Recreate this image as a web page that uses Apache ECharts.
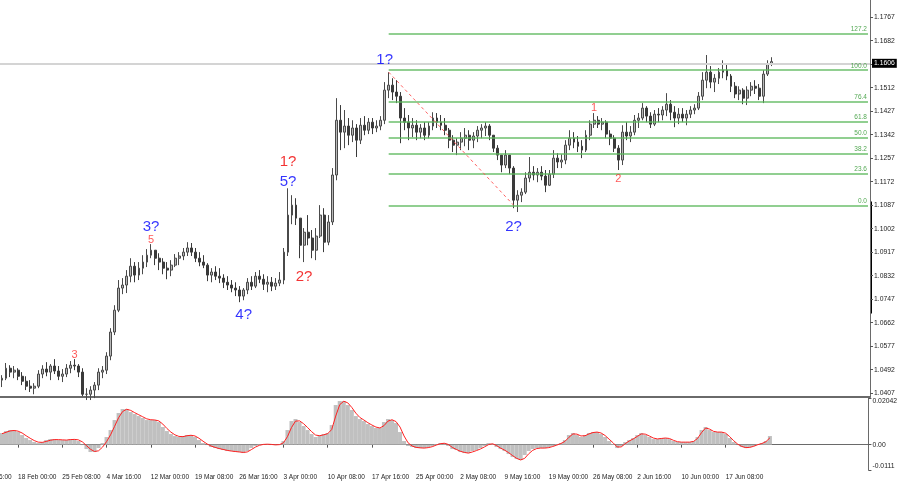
<!DOCTYPE html>
<html><head><meta charset="utf-8">
<script src="https://cdn.jsdelivr.net/npm/echarts@6/dist/echarts.min.js"></script>
<style>html,body{margin:0;padding:0;background:#fff}#c{width:900px;height:485px}</style>
</head><body><div id="c"></div>
<script>
// ---- price bars (H4-style candles, open = previous close) ----
const firstOpen = 1.0454;
const highs = [
1.0472,1.0516,1.0508,1.0505,1.0497,1.0483,1.0468,1.0454,1.0443,1.0490,
1.0508,1.0519,1.0512,1.0530,1.0505,1.0494,1.0512,1.0523,1.0530,1.0512,
1.0497,1.0425,1.0432,1.0447,1.0497,1.0505,1.0555,1.0642,1.0725,1.0816,
1.0823,1.0852,1.0895,1.0881,1.0881,1.0906,1.0928,1.0946,1.0924,1.0913,
1.0895,1.0881,1.0888,1.0910,1.0917,1.0932,1.0953,1.0950,1.0932,1.0917,
1.0906,1.0877,1.0859,1.0866,1.0859,1.0837,1.0830,1.0816,1.0808,1.0794,
1.0787,1.0823,1.0830,1.0845,1.0852,1.0837,1.0830,1.0827,1.0823,1.0845,
1.0932,1.1148,1.1123,1.1112,1.1040,1.1004,1.1051,1.0997,1.1004,1.1087,
1.1076,1.1051,1.1221,1.1474,1.1449,1.1431,1.1402,1.1394,1.1380,1.1402,
1.1409,1.1402,1.1402,1.1394,1.1409,1.1532,1.1568,1.1546,1.1539,1.1496,
1.1438,1.1413,1.1402,1.1394,1.1380,1.1387,1.1387,1.1423,1.1420,1.1413,
1.1402,1.1366,1.1340,1.1329,1.1351,1.1366,1.1358,1.1351,1.1373,1.1380,
1.1387,1.1380,1.1340,1.1304,1.1268,1.1286,1.1268,1.1228,1.1141,1.1148,
1.1206,1.1261,1.1228,1.1221,1.1228,1.1214,1.1214,1.1286,1.1275,1.1271,
1.1322,1.1358,1.1351,1.1337,1.1322,1.1358,1.1394,1.1420,1.1409,1.1402,
1.1394,1.1358,1.1340,1.1304,1.1376,1.1387,1.1373,1.1413,1.1420,1.1456,
1.1445,1.1423,1.1431,1.1438,1.1445,1.1492,1.1467,1.1445,1.1438,1.1438,
1.1431,1.1445,1.1452,1.1496,1.1568,1.1630,1.1590,1.1561,1.1583,1.1611,
1.1597,1.1561,1.1532,1.1517,1.1510,1.1517,1.1532,1.1539,1.1525,1.1575,
1.1611,1.1622];
const lows = [
1.0429,1.0454,1.0465,1.0461,1.0454,1.0436,1.0418,1.0411,1.0403,1.0425,
1.0461,1.0468,1.0454,1.0476,1.0454,1.0447,1.0465,1.0479,1.0490,1.0465,
1.0396,1.0382,1.0382,1.0389,1.0418,1.0461,1.0476,1.0526,1.0617,1.0700,
1.0765,1.0769,1.0808,1.0808,1.0816,1.0837,1.0863,1.0895,1.0870,1.0852,
1.0837,1.0819,1.0830,1.0863,1.0870,1.0888,1.0903,1.0903,1.0881,1.0866,
1.0859,1.0812,1.0808,1.0816,1.0805,1.0787,1.0780,1.0772,1.0758,1.0736,
1.0743,1.0765,1.0780,1.0787,1.0805,1.0780,1.0772,1.0776,1.0780,1.0794,
1.0801,1.0903,1.1018,1.1015,1.0895,1.0881,1.0942,1.0895,1.0888,1.0968,
1.0917,1.0942,1.1015,1.1177,1.1286,1.1293,1.1304,1.1315,1.1261,1.1308,
1.1340,1.1344,1.1344,1.1351,1.1358,1.1380,1.1474,1.1467,1.1456,1.1311,
1.1358,1.1322,1.1333,1.1322,1.1329,1.1322,1.1329,1.1358,1.1366,1.1358,
1.1340,1.1293,1.1279,1.1268,1.1286,1.1300,1.1286,1.1293,1.1315,1.1329,
1.1337,1.1322,1.1279,1.1250,1.1206,1.1221,1.1199,1.1076,1.1062,1.1098,
1.1127,1.1170,1.1177,1.1170,1.1177,1.1134,1.1156,1.1185,1.1221,1.1221,
1.1235,1.1286,1.1293,1.1279,1.1257,1.1279,1.1322,1.1366,1.1366,1.1358,
1.1329,1.1304,1.1279,1.1214,1.1232,1.1322,1.1315,1.1340,1.1366,1.1394,
1.1387,1.1366,1.1373,1.1387,1.1394,1.1409,1.1394,1.1369,1.1380,1.1387,
1.1376,1.1402,1.1416,1.1431,1.1467,1.1510,1.1510,1.1496,1.1525,1.1546,
1.1539,1.1496,1.1474,1.1467,1.1452,1.1449,1.1481,1.1489,1.1467,1.1456,
1.1554,1.1590];
const closes = [
1.0461,1.0497,1.0483,1.0490,1.0468,1.0450,1.0432,1.0425,1.0432,1.0476,
1.0494,1.0483,1.0505,1.0487,1.0468,1.0476,1.0497,1.0508,1.0505,1.0483,
1.0403,1.0403,1.0418,1.0436,1.0483,1.0490,1.0541,1.0628,1.0707,1.0787,
1.0798,1.0830,1.0866,1.0834,1.0859,1.0881,1.0906,1.0924,1.0895,1.0881,
1.0859,1.0852,1.0870,1.0895,1.0903,1.0917,1.0932,1.0917,1.0895,1.0881,
1.0870,1.0834,1.0845,1.0830,1.0823,1.0808,1.0798,1.0787,1.0780,1.0758,
1.0780,1.0808,1.0794,1.0830,1.0819,1.0801,1.0808,1.0794,1.0805,1.0816,
1.0917,1.1051,1.1087,1.1040,1.0942,1.0989,1.0968,1.0924,1.0975,1.1051,
1.0953,1.1026,1.1196,1.1394,1.1351,1.1373,1.1340,1.1366,1.1322,1.1376,
1.1358,1.1387,1.1366,1.1373,1.1394,1.1503,1.1521,1.1496,1.1481,1.1402,
1.1387,1.1366,1.1376,1.1351,1.1366,1.1340,1.1373,1.1402,1.1387,1.1376,
1.1358,1.1322,1.1304,1.1315,1.1329,1.1340,1.1322,1.1337,1.1358,1.1366,
1.1373,1.1340,1.1293,1.1268,1.1232,1.1268,1.1221,1.1105,1.1123,1.1134,
1.1185,1.1206,1.1196,1.1206,1.1192,1.1159,1.1199,1.1257,1.1243,1.1250,
1.1304,1.1329,1.1315,1.1300,1.1286,1.1340,1.1380,1.1394,1.1380,1.1387,
1.1344,1.1329,1.1293,1.1250,1.1351,1.1337,1.1351,1.1394,1.1402,1.1438,
1.1409,1.1380,1.1416,1.1413,1.1431,1.1452,1.1423,1.1402,1.1416,1.1402,
1.1416,1.1431,1.1438,1.1481,1.1539,1.1568,1.1532,1.1546,1.1568,1.1575,
1.1554,1.1517,1.1489,1.1503,1.1474,1.1503,1.1517,1.1510,1.1481,1.1561,
1.1597,1.1606];

// ---- MACD (histogram) and signal line ----
const macdHist = [
0.00508,0.00595,0.00639,0.00639,0.00552,0.00420,0.00289,0.00201,0.00114,0.00070,
0.00114,0.00201,0.00245,0.00245,0.00201,0.00201,0.00201,0.00245,0.00245,0.00158,
-0.00018,-0.00193,-0.00324,-0.00324,-0.00149,0.00070,0.00333,0.00639,0.01077,0.01384,
0.01559,0.01559,0.01427,0.01340,0.01252,0.01165,0.01077,0.01077,0.01077,0.00989,
0.00771,0.00595,0.00464,0.00377,0.00333,0.00377,0.00420,0.00420,0.00333,0.00201,
0.00070,-0.00018,-0.00105,-0.00149,-0.00193,-0.00236,-0.00280,-0.00280,-0.00324,-0.00324,
-0.00368,-0.00280,-0.00149,-0.00061,0.00026,0.00026,0.00026,-0.00018,-0.00018,0.00026,
0.00158,0.00639,0.01033,0.01121,0.00989,0.00814,0.00639,0.00464,0.00333,0.00420,
0.00464,0.00508,0.00858,0.01734,0.01909,0.01909,0.01734,0.01515,0.01252,0.01121,
0.01033,0.00902,0.00814,0.00727,0.00727,0.00989,0.01121,0.01077,0.00946,0.00552,
0.00158,-0.00061,-0.00105,-0.00149,-0.00149,-0.00149,-0.00105,-0.00061,0.00026,0.00070,
0.00070,-0.00061,-0.00193,-0.00236,-0.00324,-0.00368,-0.00368,-0.00280,-0.00236,-0.00149,
-0.00061,0.00070,0.00026,-0.00105,-0.00193,-0.00280,-0.00412,-0.00543,-0.00630,-0.00674,
-0.00455,-0.00280,-0.00193,-0.00149,-0.00149,-0.00149,-0.00105,-0.00061,0.00026,0.00070,
0.00201,0.00420,0.00508,0.00420,0.00333,0.00420,0.00508,0.00552,0.00552,0.00464,
0.00333,0.00158,0.00026,-0.00149,-0.00061,0.00114,0.00201,0.00289,0.00420,0.00508,
0.00420,0.00333,0.00245,0.00245,0.00289,0.00289,0.00245,0.00158,0.00114,0.00114,
0.00114,0.00114,0.00158,0.00333,0.00639,0.00771,0.00639,0.00552,0.00552,0.00552,
0.00464,0.00289,0.00114,-0.00018,-0.00105,-0.00149,-0.00105,-0.00061,0.00026,0.00070,
0.00158,0.00377];
const macdSignal = [
0.0048,0.0054,0.0060,0.0062,0.0059,0.0051,0.0039,0.0028,0.0018,0.0011,
0.0010,0.0014,0.0019,0.0022,0.0022,0.0021,0.0020,0.0022,0.0023,0.0021,
0.0012,-0.0004,-0.0020,-0.0030,-0.0027,-0.0011,0.0013,0.0043,0.0080,0.0118,
0.0145,0.0155,0.0150,0.0140,0.0131,0.0122,0.0113,0.0109,0.0108,0.0104,
0.0090,0.0071,0.0055,0.0043,0.0036,0.0035,0.0039,0.0041,0.0038,0.0028,
0.0015,0.0003,-0.0006,-0.0012,-0.0017,-0.0021,-0.0025,-0.0028,-0.0030,-0.0032,
-0.0034,-0.0032,-0.0022,-0.0011,-0.0003,0.0001,0.0002,0.0001,-0.0001,0.0000,
0.0008,0.0035,0.0075,0.0103,0.0104,0.0092,0.0075,0.0057,0.0042,0.0039,
0.0043,0.0048,0.0066,0.0125,0.0175,0.0190,0.0183,0.0163,0.0138,0.0119,
0.0108,0.0096,0.0086,0.0077,0.0073,0.0083,0.0103,0.0109,0.0101,0.0077,
0.0038,0.0008,-0.0006,-0.0012,-0.0014,-0.0015,-0.0013,-0.0009,-0.0002,0.0004,
0.0006,0.0001,-0.0012,-0.0021,-0.0029,-0.0034,-0.0037,-0.0032,-0.0026,-0.0019,
-0.0010,0.0000,0.0004,-0.0004,-0.0015,-0.0024,-0.0035,-0.0048,-0.0060,-0.0067,
-0.0060,-0.0040,-0.0025,-0.0017,-0.0015,-0.0015,-0.0013,-0.0008,-0.0002,0.0005,
0.0014,0.0032,0.0047,0.0046,0.0038,0.0039,0.0047,0.0053,0.0055,0.0051,
0.0040,0.0024,0.0008,-0.0010,-0.0010,0.0004,0.0016,0.0025,0.0036,0.0047,
0.0046,0.0038,0.0029,0.0025,0.0027,0.0029,0.0027,0.0019,0.0013,0.0011,
0.0011,0.0011,0.0014,0.0027,0.0053,0.0073,0.0068,0.0058,0.0055,0.0055,
0.0050,0.0035,0.0017,0.0002,-0.0008,-0.0013,-0.0012,-0.0007,0.0000,0.0005,
0.0013,0.0030];

// ---- axes / annotations ----
const priceTicks = [1.0407,1.0492,1.0577,1.0662,1.0747,1.0832,1.0917,1.1002,1.1087,1.1172,1.1257,1.1342,1.1427,1.1512,1.1597,1.1682,1.1767];
const macdTicks = [-0.0111, 0, 0.02042];
const macdTickText = ['-0.0111', '0.00', '0.02042'];
const timeLabels = ['18 Feb 00:00','25 Feb 08:00','4 Mar 16:00','12 Mar 00:00','19 Mar 08:00','26 Mar 16:00','3 Apr 00:00','10 Apr 08:00','17 Apr 16:00','25 Apr 00:00','2 May 08:00','9 May 16:00','19 May 00:00','26 May 08:00','2 Jun 16:00','10 Jun 00:00','17 Jun 08:00'];
const prevTimeLabel = '11 Feb 16:00';
const fibLevels = [0, 23.6, 38.2, 50, 61.8, 76.4, 100, 127.2];
const fibLevelText = ['0.0','23.6','38.2','50.0','61.8','76.4','100.0','127.2'];
const fibHigh = 1.1575, fibLow = 1.1085;
const fibStartBar = 96;
const trendFrom = [96, 1.1568], trendTo = [127, 1.1087];
const currentPrice = 1.1606;
const waveText  = ['1?','3?','5','3','4?','1?','5?','2?','2?','1','2'];
const waveBar   = [95, 37, 37, 18, 60, 71, 71, 75, 127, 147, 153];
const wavePrice = [1.1611,1.1007,1.0961,1.0545,1.0689,1.1243,1.1170,1.0827,1.1007,1.1438,1.1181];
const waveColor = ['#0000ff','#0000ff','#ff3030','#ff3030','#0000ff','#f00000','#0000ff','#f00000','#0000ff','#ff3030','#ff3030'];
const waveSize  = [15,15,11,11,15,15,15,15,15,11,11];

const TOTAL_SLOTS = 216, FIRST_LABEL = 4, LABEL_EVERY = 11;
const cats = Array.from({length: TOTAL_SLOTS}, (_, i) => String(i));
const ohlc = closes.map((c, i) => [i === 0 ? firstOpen : closes[i - 1], c, lows[i], highs[i]]);
const isLabelIdx = (i) => i >= FIRST_LABEL && (i - FIRST_LABEL) % LABEL_EVERY === 0 && (i - FIRST_LABEL) / LABEL_EVERY < timeLabels.length;
const FONT = '"Liberation Sans", Arial, sans-serif';
const FIB_COLOR = '#5cb85c';

const fibLines = fibLevels.map((lv, k) => {
  const p = fibLow + (fibHigh - fibLow) * lv / 100;
  return [{name: fibLevelText[k], coord: [fibStartBar, p]}, {coord: [TOTAL_SLOTS - 1, p]}];
});

const chart = echarts.init(document.getElementById('c'), null, {renderer: 'canvas'});
chart.setOption({
  animation: false,
  backgroundColor: '#ffffff',
  textStyle: {fontFamily: FONT},
  grid: [
    {left: 0, top: 0, width: 870, height: 397},
    {left: 0, top: 398, width: 870, height: 72}
  ],
  xAxis: [
    {type: 'category', gridIndex: 0, data: cats, boundaryGap: true,
     axisLine: {show: true, lineStyle: {color: '#6a6a6a', width: 2}},
     axisTick: {show: false}, axisLabel: {show: false}, splitLine: {show: false}},
    {type: 'category', gridIndex: 1, data: cats, boundaryGap: true,
     axisLine: {show: true, lineStyle: {color: '#6a6a6a', width: 1}},
     axisTick: {show: true, alignWithLabel: true, interval: (i) => isLabelIdx(i), length: 3, lineStyle: {color: '#555'}},
     axisLabel: {show: true, interval: (i) => isLabelIdx(i), align: 'left', margin: 4,
       fontSize: 6.5, color: '#222', fontFamily: FONT,
       formatter: (v) => { const i = +v; return isLabelIdx(i) ? timeLabels[(i - FIRST_LABEL) / LABEL_EVERY] : ''; }},
     splitLine: {show: false}}
  ],
  yAxis: [
    {type: 'value', gridIndex: 0, position: 'right', min: 1.0393, max: 1.1829, scale: true,
     axisLine: {show: true, lineStyle: {color: '#6a6a6a'}},
     axisTick: {show: true, customValues: priceTicks, length: 3, lineStyle: {color: '#555'}},
     axisLabel: {show: true, customValues: priceTicks, margin: 4, fontSize: 6.8, color: '#222', fontFamily: FONT,
       formatter: (v) => v.toFixed(4)},
     splitLine: {show: false}},
    {type: 'value', gridIndex: 1, position: 'right', min: -0.0111, max: 0.02042,
     axisLine: {show: true, lineStyle: {color: '#6a6a6a'}},
     axisTick: {show: true, customValues: macdTicks, length: 3, lineStyle: {color: '#555'}},
     axisLabel: {show: true, customValues: macdTicks, margin: 4, fontSize: 6.8, color: '#222', fontFamily: FONT,
       verticalAlignMinLabel: 'bottom', verticalAlignMaxLabel: 'top',
       formatter: (v) => { const k = macdTicks.findIndex(t => Math.abs(t - v) < 1e-9); return k >= 0 ? macdTickText[k] : ''; }},
     splitLine: {show: false}}
  ],
  series: [
    {type: 'line', name: 'current', xAxisIndex: 0, yAxisIndex: 0, data: [], silent: true, z: 1,
     markLine: {
       silent: true, symbol: ['none', 'none'], animation: false,
       lineStyle: {color: '#d4d4d4', width: 2, type: 'solid'},
       label: {show: true, position: 'end', formatter: currentPrice.toFixed(4),
         backgroundColor: '#000', color: '#fff', fontSize: 6.8, padding: [1, 2, 1, 2], distance: 2, fontFamily: FONT},
       data: [{yAxis: currentPrice}]
     }
    },
    {type: 'candlestick', name: 'price', xAxisIndex: 0, yAxisIndex: 0, data: ohlc,
     barWidth: 2.4, clip: true, z: 3,
     itemStyle: {color: '#b8b8b8', color0: '#3a3a3a', borderColor: '#4a4a4a', borderColor0: '#3a3a3a', borderWidth: 1},
     markLine: {
       silent: true, symbol: ['none', 'none'], animation: false,
       lineStyle: {color: FIB_COLOR, width: 1.5, type: 'solid', opacity: 0.9},
       label: {show: true, position: 'insideEndTop', formatter: '{b}', color: '#3f9f3f', fontSize: 6.5, distance: 1, fontFamily: FONT},
       data: [
         ...fibLines,
         [{coord: trendFrom, label: {show: false}, lineStyle: {color: '#ff5050', width: 1, type: [3, 3]}}, {coord: trendTo}]
       ]
     }
    },
    {type: 'scatter', name: 'waves', xAxisIndex: 0, yAxisIndex: 0, symbolSize: 1, silent: true, z: 5,
     itemStyle: {color: 'rgba(0,0,0,0)'},
     data: waveText.map((t, k) => ({value: [waveBar[k], wavePrice[k]],
       label: {show: true, position: 'inside', formatter: t, color: waveColor[k], fontSize: waveSize[k], fontFamily: FONT}}))
    },
    {type: 'bar', name: 'MACD', xAxisIndex: 1, yAxisIndex: 1, data: macdHist, barCategoryGap: '0%',
     itemStyle: {color: '#c0c0c0'}, silent: true},
    {type: 'line', name: 'Signal', xAxisIndex: 1, yAxisIndex: 1, data: macdSignal, symbol: 'none',
     lineStyle: {color: '#ff2020', width: 1}, itemStyle: {color: '#ff2020'}, silent: true, z: 4}
  ]
});

// previous (partially visible) time label and price-scale marker
const barW = 870 / TOTAL_SLOTS;
const firstLabelX = chart.convertToPixel({xAxisIndex: 1}, String(FIRST_LABEL));
const markTop = chart.convertToPixel({yAxisIndex: 0}, 1.1100);
const markBot = chart.convertToPixel({yAxisIndex: 0}, 1.0695);
chart.setOption({
  graphic: [
    {type: 'text', left: firstLabelX - LABEL_EVERY * barW, top: 474,
     style: {text: prevTimeLabel, fontSize: 6.5, fill: '#222', fontFamily: FONT}},
    {type: 'rect', shape: {x: 870, y: markTop, width: 2, height: markBot - markTop}, style: {fill: '#000'}}
  ]
});
</script></body></html>
